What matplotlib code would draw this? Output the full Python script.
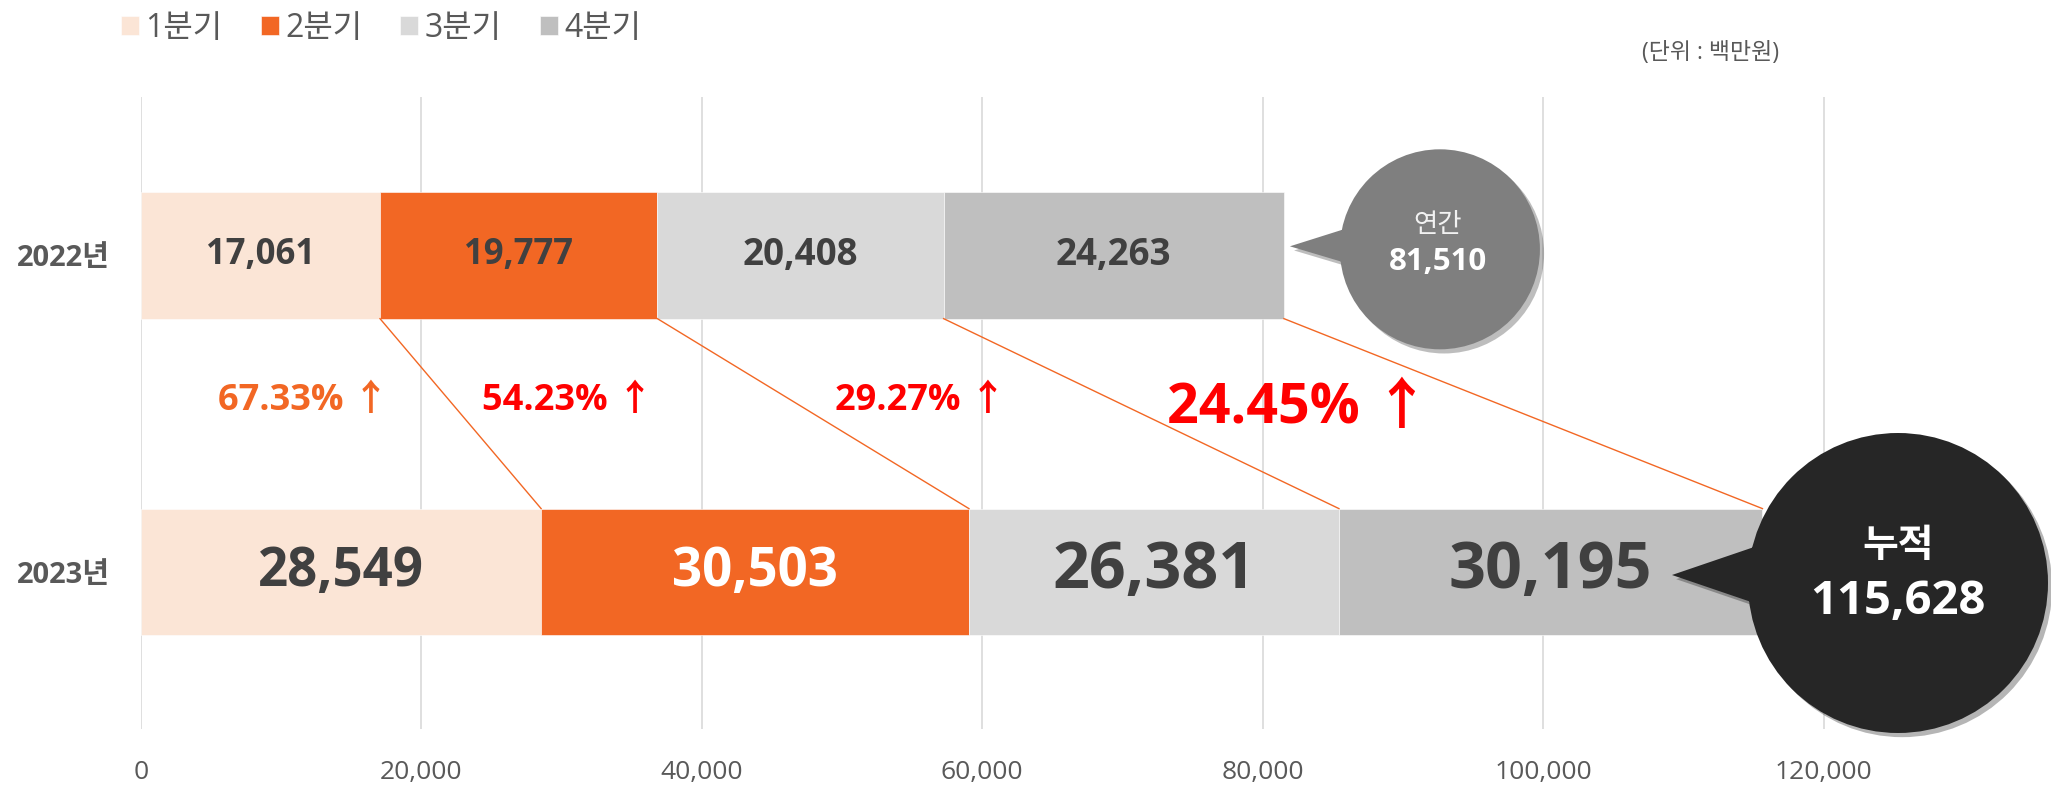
import numpy as np
import matplotlib.pyplot as plt
from matplotlib.path import Path
from matplotlib.patches import PathPatch
import matplotlib.patheffects as pe

plt.rcParams['font.family'] = ['Open Sans', 'Noto Sans CJK KR', 'DejaVu Sans']

years = ['2022년', '2023년']
quarters = ['1분기', '2분기', '3분기', '4분기']
q_2022 = [17061, 19777, 20408, 24263]
q_2023 = [28549, 30503, 26381, 30195]
total_2022 = 81510
total_2023 = 115628
x_ticks = [0, 20000, 40000, 60000, 80000, 100000, 120000]
unit_label = '(단위 : 백만원)'

colors = ['#FBE5D6', '#F26724', '#D9D9D9', '#BFBFBF']
gray_txt = '#595959'
dark_txt = '#404040'

W, H = 2051, 788
fig = plt.figure(figsize=(W / 100, H / 100), dpi=100)
ax = fig.add_axes([0.0686, 0.0749, 0.9314, 0.802])

ypos = [1, 0]
bar_h = 0.4
rows = [np.array(q_2022), np.array(q_2023)]
lab_sizes = [[25, 25, 26.5, 26.5], [38, 38, 46.5, 46.5]]
lab_colors = [[dark_txt] * 4, [dark_txt, 'white', dark_txt, dark_txt]]

handles = []
for r, (y, vals) in enumerate(zip(ypos, rows)):
    lefts = np.concatenate([[0], np.cumsum(vals)[:-1]])
    for i in range(4):
        b = ax.barh(y, vals[i], left=lefts[i], height=bar_h, color=colors[i],
                    edgecolor='white', linewidth=0.4, zorder=2)
        if r == 0:
            handles.append(b)
        ax.text(lefts[i] + vals[i] / 2, y, f'{vals[i]:,}', ha='center', va='center',
                fontsize=lab_sizes[r][i], fontweight='bold', color=lab_colors[r][i], zorder=3)

# connector lines between quarter boundaries
cum22 = np.cumsum(q_2022)
cum23 = np.cumsum(q_2023)
for a, b in zip(cum22, cum23):
    ax.plot([a, b], [1 - bar_h / 2, bar_h / 2], color='#F26724', lw=1.0, zorder=3)

# growth labels
growth = (np.array(q_2023) / np.array(q_2022) - 1) * 100
g_x = [11640, 30400, 55580, 82530]
g_y = [0.54, 0.54, 0.54, 0.515]
g_size = [26, 26, 26, 40]
g_color = ['#F26724', '#FF0000', '#FF0000', '#FF0000']
for g, x, y, s, c in zip(growth, g_x, g_y, g_size, g_color):
    ax.text(x, y, f'{g:.2f}% ↑', ha='center', va='center', fontsize=s,
            fontweight='bold', color=c)

ax.set_xlim(0, 136200)
ax.set_ylim(-0.496, 1.5)
ax.set_xticks(x_ticks)
ax.set_xticklabels([f'{v:,}' for v in x_ticks])
ax.set_yticks(ypos)
ax.set_yticklabels(years, fontsize=21, fontweight='bold', color=gray_txt)
ax.tick_params(axis='x', length=0, pad=22, labelsize=19, labelcolor=gray_txt)
ax.tick_params(axis='y', length=0, pad=22)
ax.xaxis.grid(True, color='#D9D9D9', lw=1.2)
ax.set_axisbelow(True)
for s in ax.spines.values():
    s.set_visible(False)

leg = ax.legend(handles, quarters, ncol=4, loc='upper left', frameon=False,
                bbox_to_anchor=(121 / W, 1 - 12 / H), bbox_transform=fig.transFigure,
                fontsize=23, handlelength=0.56, handleheight=0.56, handletextpad=0.2,
                columnspacing=1.2, borderpad=0, borderaxespad=0)
for t in leg.get_texts():
    t.set_color(gray_txt)

fig.text(1711 / W, 1 - 53 / H, unit_label, ha='center', va='center', fontsize=16.5, color=gray_txt)

# callouts drawn in pixel space
ov = fig.add_axes([0, 0, 1, 1])
ov.set_xlim(0, W)
ov.set_ylim(H, 0)
ov.axis('off')


def callout(cx, cy, r, tip, base_x, base_dy, color):
    circ = Path.circle((cx, cy), r)
    tri = Path([tip, (base_x, cy + base_dy[0]), (base_x, cy + base_dy[1]), tip],
               [Path.MOVETO, Path.LINETO, Path.LINETO, Path.CLOSEPOLY])
    patch = PathPatch(Path.make_compound_path(circ, tri), facecolor=color, edgecolor='none',
                      path_effects=[pe.SimplePatchShadow(offset=(3, -3), alpha=0.3), pe.Normal()])
    ov.add_patch(patch)


end_x, end_y = ax.transData.transform((cum22[-1], 1))
end_y = H - end_y
c1x, c1y = end_x + 156, end_y - 6
callout(c1x, c1y, 100, (end_x + 6, end_y - 9), c1x - 93, (-21, 14), '#7F7F7F')
ov.text(c1x - 2, c1y - 24, '연간', ha='center', va='center', fontsize=19, color='#F2F2F2')
ov.text(c1x - 2, c1y + 13, f'{total_2022:,}', ha='center', va='center', fontsize=22.5,
        fontweight='bold', color='white')

c2x, c2y = 1898, 583
callout(c2x, c2y, 150, (1672, 575), c2x - 138, (-38, 22), '#262626')
ov.text(c2x, c2y - 36, '누적', ha='center', va='center', fontsize=28, fontweight='bold', color='white')
ov.text(c2x, c2y + 19, f'{total_2023:,}', ha='center', va='center', fontsize=34,
        fontweight='bold', color='white')

fig.savefig('out.png', dpi=100)
